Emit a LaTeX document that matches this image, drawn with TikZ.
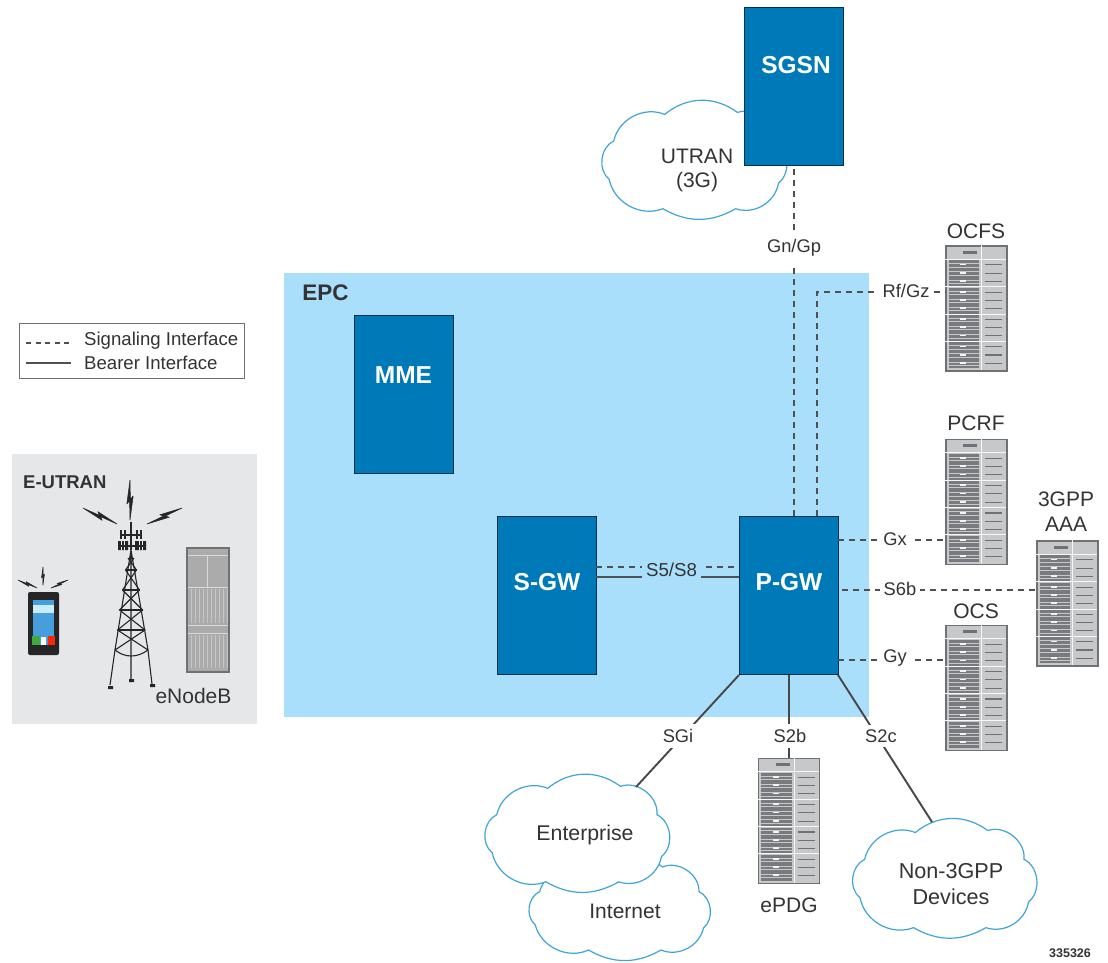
\documentclass[tikz,border=0pt]{standalone}
\usepackage{fontspec}
\setmainfont{Liberation Sans}
\definecolor{epcblue}{HTML}{A9DFFB}
\definecolor{boxblue}{HTML}{0079B8}
\definecolor{cloudblue}{HTML}{3FA5D6}
\definecolor{txt}{HTML}{333333}
\definecolor{panel}{HTML}{E6E7E8}
\definecolor{rackg}{HTML}{C6C8CA}
\definecolor{rackd}{HTML}{707174}
\definecolor{linegray}{HTML}{505052}
\newcommand{\fs}[1]{\fontsize{#1}{#1}\selectfont}
\tikzset{
  gwbox/.style={draw=black!60!boxblue,line width=.9pt,fill=boxblue,inner sep=0pt,minimum width=99pt,minimum height=158pt},
  gwtext/.style={text=white,font=\fs{24.5}\bfseries,inner sep=0pt},
  rackbox/.style={draw=rackd,line width=1.2pt,fill=rackg,inner sep=0pt,minimum width=61pt,minimum height=125pt},
  lab/.style={text=txt,font=\fs{18.3},inner sep=0pt},
  biglab/.style={text=txt,font=\fs{21},inner sep=0pt,align=center},
  sig/.style={draw=linegray,line width=2pt,dash pattern=on 6pt off 5pt},
  bear/.style={draw=black!72,line width=1.9pt},
  cloudline/.style={draw=cloudblue,line width=1.2pt,fill=white},
}
% cloud in a unit square
\newcommand{\cloudshape}[4]{%
  \draw[cloudline,shift={(#1,#2)},x=#3pt,y=-#4pt]
    (.35,.107) to[bend left=38] (.75,.09) to[bend left=58] (.95,.336)
    to[bend left=58] (.975,.70) to[bend left=50] (.74,.92) to[bend left=30] (.34,.92)
    to[bend left=50] (.045,.667) to[bend left=58] (.07,.336) to[bend left=50] cycle;}
% rack decoration
\newcommand{\rackdeco}[1]{%
  \begin{scope}[shift={(#1.north west)}]
    \draw[white!85!rackg,line width=.9pt] (36.5,0) -- (36.5,125);
    \fill[rackd] (18,5.5) rectangle (32,8.5);
    \foreach \b in {0,1,2,3}{
      \begin{scope}[shift={(0,{15+27.3*\b})}]
        \fill[rackd!90!rackg] (3.3,0) rectangle (34,26);
        \draw[white!85!rackg,line width=.9pt] (0,-1) -- (61,-1);
        \foreach \s in {0,1,2}{
          \fill[rackg] (3.3,{2.8+8.2*\s}) rectangle (34,{3.6+8.2*\s});
          \fill[rackg] (3.3,{6.2+8.2*\s}) rectangle (34,{7+8.2*\s});
          \fill[white!80!rackg] (15,{3.2+8.2*\s}) rectangle (21,{5+8.2*\s});
          \draw[rackd,line width=1.1pt] (40,{4.5+8.2*\s}) -- (57,{4.5+8.2*\s});
        }
      \end{scope}}
  \end{scope}}
% lightning bolt: start, vector
\newcommand{\bolt}[4]{%
  \begin{scope}[shift={(#1,#2)},x={(#3pt,{-(#4)*1pt})},y={(#4pt,#3pt)}]
    \filldraw[black!85,line width=.5pt,line join=round] (0,0) -- (.6,-.08) -- (.52,-.01) -- (1,0) -- (.4,.08) -- (.48,.01) -- cycle;
  \end{scope}}
\begin{document}
\begin{tikzpicture}[x=1pt,y=-1pt]
\useasboundingbox (0,0) rectangle (1108,962);
\fill[white] (0,0) rectangle (1108,962);
% EPC
\fill[epcblue] (284,273) rectangle (869,717);
\node[text=txt,font=\fs{22.5}\bfseries,inner sep=0pt] (epc) at (325.5,293) {EPC};
% UTRAN cloud
\cloudshape{601}{102}{182}{116}
\node[biglab] (utran) at (697,170) {UTRAN\\[3pt](3G)};
% boxes
\node[gwbox] (sgsn) at (793.5,86) {};
\node[gwbox] (mme) at (403.5,394.5) {};
\node[gwbox] (sgw) at (546.5,595.5) {};
\node[gwbox] (pgw) at (788.5,595.5) {};
\node[gwtext] (sgsnt) at (796,65) {SGSN};
\node[gwtext] (mmet) at (403.5,375) {MME};
\node[gwtext] (sgwt) at (547,582) {S-GW};
\node[gwtext] (pgwt) at (789,582) {P-GW};
% racks
\node[rackbox] (ocfs) at (976.5,308.5) {};
\node[rackbox] (pcrf) at (976.5,502) {};
\node[rackbox] (ocs) at (976.5,688) {};
\node[rackbox] (aaa) at (1067.5,603.5) {};
\node[rackbox] (epdg) at (789,821) {};
\rackdeco{ocfs}\rackdeco{pcrf}\rackdeco{ocs}\rackdeco{aaa}\rackdeco{epdg}
\node[biglab] (ocfsl) at (976,231) {OCFS};
\node[biglab] (pcrfl) at (976,423) {PCRF};
\node[biglab] (ocsl) at (976,611) {OCS};
\node[biglab] (aaal) at (1066,512) {3GPP\\[4pt]AAA};
\node[biglab] (epdgl) at (789,905) {ePDG};
% clouds at the bottom
\cloudshape{527}{858}{181}{100}
\cloudshape{484}{776}{182}{115}
\cloudshape{852}{820}{181}{117}
\node[biglab,font=\fs{21.3}] (ent) at (585,835) {Enterprise};
\node[biglab] (inet) at (625,911) {Internet};
\node[biglab,font=\fs{21.6}] (non) at (951,884) {Non-3GPP\\[4pt]Devices};
% coordinates
\coordinate (gnA) at (794,165);
\coordinate (gnB) at (794,516);
\coordinate (rfA) at (817,516);
\coordinate (rfB) at (817,292);
\coordinate (gxA) at (838,540);
\coordinate (s6A) at (842,590);
\coordinate (gyA) at (838,660);
\coordinate (s5A) at (596,567);
\coordinate (s8A) at (596,577);
\coordinate (sgiA) at (739,675);
\coordinate (sgiB) at (636,787);
\coordinate (s2bA) at (789,675);
\coordinate (s2cA) at (838,675);
\coordinate (s2cB) at (932,822);
% connectors
\draw[sig] (gnB) -- (gnA);
\draw[sig] (rfA) -- (rfB) -- (ocfs.west |- rfB);
\draw[sig] (gxA) -- (pcrf.west |- gxA);
\draw[sig] (s6A) -- (aaa.west |- s6A);
\draw[sig] (gyA) -- (ocs.west |- gyA);
\draw[sig] (s5A) -- (pgw.west |- s5A);
\draw[bear,draw=linegray] (s8A) -- (pgw.west |- s8A);
\draw[bear] (sgiA) -- (sgiB);
\draw[bear] (s2bA) -- (epdg.north -| s2bA);
\draw[bear] (s2cA) -- (s2cB);
% connector labels
\node[lab,fill=white,inner xsep=3pt,inner ysep=7pt] (gn) at (794,248) {Gn/Gp};
\node[lab,fill=white,inner xsep=4pt,inner ysep=2pt] (rf) at (906,291) {Rf/Gz};
\node[lab,fill=white,inner xsep=5pt,inner ysep=2pt] (gx) at (895,539) {Gx};
\node[lab,fill=white,inner xsep=4pt,inner ysep=2pt] (s6) at (900,589) {S6b};
\node[lab,fill=white,inner xsep=4pt,inner ysep=2pt] (gy) at (895,658) {Gy};
\node[lab,fill=epcblue,inner xsep=4pt,inner ysep=6pt,font=\fs{18.7}] (s5) at (671.5,570) {S5/S8};
\node[lab,fill=white,inner xsep=4pt,inner ysep=5pt] (sgi) at (678,736) {SGi};
\node[lab,fill=white,inner xsep=4pt,inner ysep=5pt] (s2b) at (790,736) {S2b};
\node[lab,fill=white,inner xsep=4pt,inner ysep=5pt] (s2c) at (881,736) {S2c};
% legend
\node[draw=rackd,line width=1pt,fill=white,minimum width=225pt,minimum height=55pt,inner sep=0pt] (legend) at (131.5,350.5) {};
\coordinate (lgA) at (26,343);
\coordinate (lgB) at (71,343);
\coordinate (lgC) at (26,363);
\coordinate (lgD) at (71,363);
\draw[draw=linegray,line width=1.1pt,dash pattern=on 5pt off 4.5pt] (lgA) -- (lgB);
\draw[draw=linegray,line width=1.8pt] (lgC) -- (lgD);
\node[lab,anchor=west,font=\fs{18.6}] (lsig) at (84,341) {Signaling Interface};
\node[lab,anchor=west,font=\fs{18.6}] (lbear) at (84,363) {Bearer Interface};
% E-UTRAN
\fill[panel] (12,454) rectangle (257,724);
\node[text=txt,font=\fs{18.5}\bfseries,inner sep=0pt,anchor=west] (eut) at (23,482) {E-UTRAN};
\node[biglab] (enb) at (193.5,696) {eNodeB};
% eNodeB cabinet
\node[draw=rackd,line width=1.2pt,fill=black!33,inner sep=0pt,minimum width=42pt,minimum height=124pt] (cab) at (208,610) {};
\draw[white!70!gray,line width=.6pt] (188,555) -- (228,555) (207,555) -- (207,587) (188,587) -- (228,587);
\draw[white!70!gray,line width=.6pt] (188,625) -- (228,625) (188,633) -- (228,633);
\foreach \i in {0,...,9}{\draw[white!55!gray,line width=.4pt] ({191+\i*4},589) -- ({191+\i*4},623) ({191+\i*4},635) -- ({191+\i*4},668);}
% phone
\fill[black!85,rounded corners=2pt] (28,592) rectangle (59,655);
\fill[cyan!70!blue!75] (33,600) rectangle (54,645);
\fill[cyan!22] (33,605) rectangle (54,613);
\fill[green!55!black!75] (32,636) rectangle (40,645);
\fill[white] (41,637) rectangle (46,645);
\fill[red!70!orange] (48,636) rectangle (55,645);
\bolt{43}{585}{0}{-18}
\bolt{37}{588}{-19}{-8}
\bolt{51}{588}{17}{-8}
% tower
\begin{scope}[draw=black!85,line width=1.1pt]
  \draw (131,550) -- (115,650) -- (110,685) (131,550) -- (148,650) -- (152,684) (131,550) -- (131,680);
  \draw (125.5,570) -- (136.5,570) (122.5,590) -- (139.5,590) (119.5,610) -- (142.5,610) (117.5,630) -- (145,630);
  \draw (128,558) -- (136.5,570) -- (122.5,590) -- (142.5,610) -- (117.5,630) -- (148,650);
  \draw (134,558) -- (125.5,570) -- (139.5,590) -- (119.5,610) -- (145,630) -- (115,650);
  \draw (115,650) .. controls (125,658) and (137,658) .. (148,650);
  \fill[black!85] (108,686) rectangle (113,689) (129,679) rectangle (134,682) (150,684) rectangle (155,687);
  \fill[black!85] (118,541) rectangle (128,550) (135,541) rectangle (146,550);
  \draw[line width=.8pt,white!40!panel] (121,541) -- (121,550) (124,541) -- (124,550) (139,541) -- (139,550) (142,541) -- (142,550);
  \draw[line width=1.3pt] (121,530) -- (121,539) (125,530) -- (125,539) (137,530) -- (137,539) (141,530) -- (141,539) (121,535) -- (141,535) (131,522) -- (131,550) (118,546) -- (146,546);
\end{scope}
\bolt{130}{520}{0}{-40}
\bolt{117}{524}{-34}{-16}
\bolt{147}{524}{35}{-16}
% figure number
\node[text=txt,font=\fs{12.5}\bfseries,inner sep=0pt] (fig) at (1070,953) {335326};
\end{tikzpicture}
\end{document}
